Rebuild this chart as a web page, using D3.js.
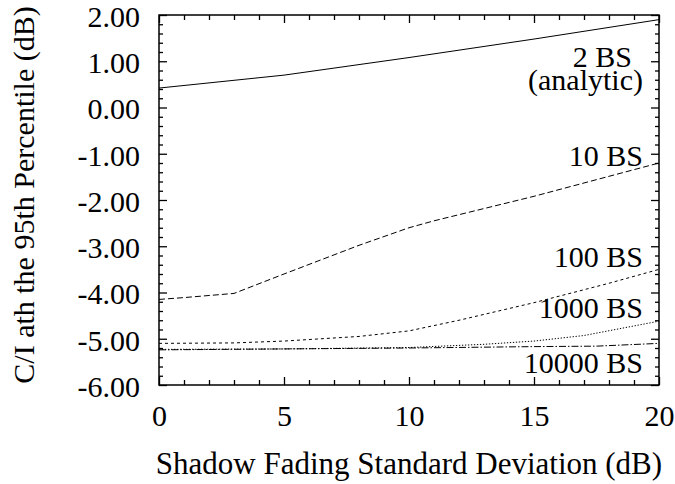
<!DOCTYPE html>
<html>
<head>
<meta charset="utf-8">
<script src="https://cdn.jsdelivr.net/npm/d3@7/dist/d3.min.js"></script>
<style>
  body { margin: 0; background: #fff; }
</style>
</head>
<body>
<svg id="chart"></svg>
<script>
// Data (x = shadow fading std dev in dB, y = C/I in dB)
var xTicks = [0, 5, 10, 15, 20];
var yTicks = [2, 1, 0, -1, -2, -3, -4, -5, -6];

var bs2X = [0, 5, 10, 15, 20];
var bs2Y = [0.42, 0.70, 1.08, 1.48, 1.90];

var bs10X = [0, 1, 3, 5, 8, 10, 11, 15, 20];
var bs10Y = [-4.15, -4.11, -4.02, -3.60, -2.98, -2.60, -2.45, -1.92, -1.20];

var bs100X = [0, 3, 5, 8, 10, 12, 15, 18, 20];
var bs100Y = [-5.10, -5.09, -5.05, -4.95, -4.83, -4.60, -4.22, -3.80, -3.50];

var bs1000X = [0, 5, 10, 13, 15, 17, 20];
var bs1000Y = [-5.23, -5.22, -5.19, -5.12, -5.05, -4.93, -4.62];

var bs10000X = [0, 5, 10, 15, 17.5, 20];
var bs10000Y = [-5.24, -5.22, -5.20, -5.17, -5.16, -5.10];

var series = [
    {x: bs2X, y: bs2Y, dash: null},
    {x: bs10X, y: bs10Y, dash: "6,3"},
    {x: bs100X, y: bs100Y, dash: "3,3"},
    {x: bs1000X, y: bs1000Y, dash: "1.3,1.7"},
    {x: bs10000X, y: bs10000Y, dash: "7,2,1.5,2"}
];

// curve labels: text, right edge x, baseline y (pixels)
var labels = [
    {t: "2 BS", x: 632, y: 67},
    {t: "(analytic)", x: 643, y: 90},
    {t: "10 BS", x: 643, y: 166},
    {t: "100 BS", x: 643, y: 267},
    {t: "1000 BS", x: 643, y: 318},
    {t: "10000 BS", x: 643, y: 373}
];

var width = 675, height = 484;
var margins = {left: 159, right: 16, top: 15, bottom: 99};
var fontSize = 30;
var serif = '"Liberation Serif", "Times New Roman", Times, serif';

renderChart();

function renderChart(){
    var svg = d3.select("#chart").attr("width", width).attr("height", height);
    var xScale = d3.scaleLinear().domain([0, 20]).range([margins.left, width - margins.right]);
    var yScale = d3.scaleLinear().domain([-6, 2]).range([height - margins.bottom, margins.top]);

    attachTicks(svg, xScale, yScale);
    attachLines(svg, xScale, yScale);
    attachFrame(svg, xScale, yScale);
    attachLabels(svg);

    svg.selectAll("g").attr("font-family", null).attr("font-size", null);
    svg.selectAll("text")
        .style("font-family", serif)
        .attr("fill", "#000");
}

// plain hyphen minus, like the original
function formatY(d){
    return d.toFixed(2);
}

function attachTicks(svg, xScale, yScale){
    var x0 = xScale.range()[0], x1 = xScale.range()[1];
    var y0 = yScale.range()[0], y1 = yScale.range()[1];
    var xMinor = d3.range(0, 21, 1).filter(function(d){ return d % 5 !== 0; });
    var yMinor = d3.range(-6, 2.01, 0.2).filter(function(d){ return Math.abs(d - Math.round(d)) > 1e-6; });

    // bottom axis (labels) + top mirror
    var bottom = svg.append("g").attr("transform", `translate(0, ${y0})`)
        .call(d3.axisBottom(xScale).tickValues(xTicks).tickSizeInner(-8).tickSizeOuter(0).tickPadding(20));
    bottom.selectAll("text").style("font-size", fontSize + "px");
    svg.append("g").attr("transform", `translate(0, ${y0})`)
        .call(d3.axisBottom(xScale).tickValues(xMinor).tickSizeInner(-5).tickSizeOuter(0).tickFormat(""));
    svg.append("g").attr("transform", `translate(0, ${y1})`)
        .call(d3.axisTop(xScale).tickValues(xTicks).tickSizeInner(-8).tickSizeOuter(0).tickFormat(""));
    svg.append("g").attr("transform", `translate(0, ${y1})`)
        .call(d3.axisTop(xScale).tickValues(xMinor).tickSizeInner(-5).tickSizeOuter(0).tickFormat(""));

    // left axis (labels) + right mirror
    var left = svg.append("g").attr("transform", `translate(${x0}, 0)`)
        .call(d3.axisLeft(yScale).tickValues(yTicks).tickSizeInner(-8).tickSizeOuter(0).tickPadding(19)
            .tickFormat(formatY));
    left.selectAll("text").style("font-size", fontSize + "px").attr("dy", "0.38em");
    svg.append("g").attr("transform", `translate(${x0}, 0)`)
        .call(d3.axisLeft(yScale).tickValues(yMinor).tickSizeInner(-4).tickSizeOuter(0).tickFormat(""));
    svg.append("g").attr("transform", `translate(${x1}, 0)`)
        .call(d3.axisRight(yScale).tickValues(yTicks).tickSizeInner(-8).tickSizeOuter(0).tickFormat(""));
    svg.append("g").attr("transform", `translate(${x1}, 0)`)
        .call(d3.axisRight(yScale).tickValues(yMinor).tickSizeInner(-4).tickSizeOuter(0).tickFormat(""));

    svg.selectAll(".domain").remove();
    svg.selectAll(".tick line").attr("stroke", "#000").attr("stroke-width", 1.3);

    // axis titles
    svg.append("text")
        .attr("x", (x0 + x1) / 2)
        .attr("y", 474)
        .attr("text-anchor", "middle")
        .style("font-size", "31px")
        .text("Shadow Fading Standard Deviation (dB)");
    svg.append("text")
        .attr("transform", `translate(34, ${(y0 + y1) / 2 - 5}) rotate(-90)`)
        .attr("text-anchor", "middle")
        .style("font-size", fontSize + "px")
        .text("C/I ath the 95th Percentile (dB)");
}

function attachLines(svg, xScale, yScale){
    var line = d3.line()
        .x(function(d){ return xScale(d[0]); })
        .y(function(d){ return yScale(d[1]); });
    series.forEach(function(s){
        var pts = s.x.map(function(v, i){ return [v, s.y[i]]; });
        svg.append("path")
            .datum(pts)
            .attr("d", line)
            .attr("fill", "none")
            .attr("stroke", "#000")
            .attr("stroke-width", 1)
            .attr("stroke-dasharray", s.dash);
    });
}

function attachFrame(svg, xScale, yScale){
    svg.append("rect")
        .attr("x", xScale.range()[0])
        .attr("y", yScale.range()[1])
        .attr("width", xScale.range()[1] - xScale.range()[0])
        .attr("height", yScale.range()[0] - yScale.range()[1])
        .attr("fill", "none")
        .attr("stroke", "#000")
        .attr("stroke-width", 1.5);
}

function attachLabels(svg){
    svg.selectAll("text.lbl")
        .data(labels)
        .enter()
        .append("text")
        .attr("class", "lbl")
        .attr("x", function(d){ return d.x; })
        .attr("y", function(d){ return d.y; })
        .attr("text-anchor", "end")
        .style("font-size", fontSize + "px")
        .text(function(d){ return d.t; });
}
</script>
</body>
</html>
